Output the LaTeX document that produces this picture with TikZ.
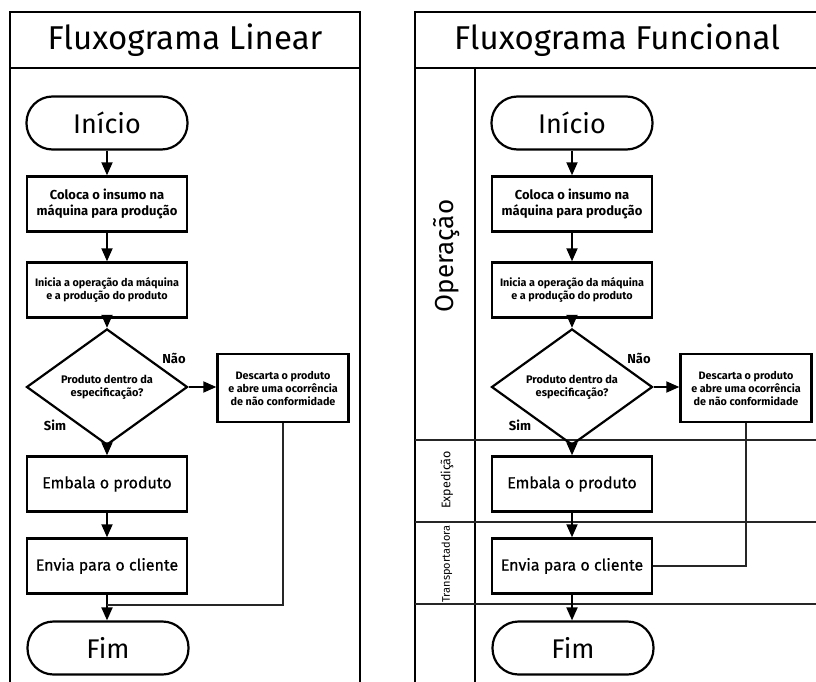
\documentclass[tikz,border=0pt]{standalone}
\usepackage{fontspec}
\setmainfont{Fira Sans}
\newfontfamily\firameio[FakeBold=0.6]{Fira Sans}
\usetikzlibrary{arrows.meta}
\usetikzlibrary{shapes.geometric}
\usetikzlibrary{calc}

\begin{document}
\begin{tikzpicture}[x=1pt,y=-1pt,
    moldura/.style={line width=2pt},
    raia/.style={line width=1.1pt,black!85},
    titulo/.style={font=\fontsize{33}{36}\selectfont},
    terminal/.style={draw,line width=2.2pt,rounded corners=26pt,minimum width=161pt,minimum height=53pt,font=\fontsize{27}{30}\selectfont},
    caixa/.style={draw,line width=2.4pt,minimum width=160pt,minimum height=55pt,inner sep=2pt,align=center,font=\fontsize{13}{15.5}\selectfont\bfseries},
    miuda/.style={font=\fontsize{10.8}{13}\selectfont\bfseries},
    grande/.style={font=\fontsize{16}{19}\firameio},
    decisao/.style={draw,diamond,line width=2.2pt,minimum width=161pt,minimum height=84pt,inner sep=0pt,align=center,font=\fontsize{11}{13}\selectfont\bfseries},
    rotulo/.style={font=\fontsize{13}{15}\selectfont\bfseries},
    seta/.style={-{Triangle[width=11pt,length=13pt]},line width=1.9pt},
    retorno/.style={line width=1.3pt,black!85}
]
\useasboundingbox[fill=white] (0,0) rectangle (816,682);

% fluxograma linear
\draw[moldura] (10,682) -- (10,12) -- (360,12) -- (360,682);
\draw[moldura] (10,68) -- (360,68);
\node[titulo] (tit1) at (185,40) {Fluxograma Linear};

\node[terminal] (ini1) at (107,123) {Início};
\node[caixa] (col1) at (107,204) {Coloca o insumo na\\máquina para produção};
\node[caixa,miuda] (opr1) at (107,290) {Inicia a operação da máquina\\e a produção do produto};
\node[decisao] (dec1) at (107,387) {Produto dentro da\\especificação?};
\node[caixa,miuda,minimum width=131pt,minimum height=68pt] (des1) at (283,388) {Descarta o produto\\e abre uma ocorrência\\de não conformidade};
\node[caixa,grande] (emb1) at (107,484) {Embala o produto};
\node[caixa,grande] (env1) at (107,566) {Envia para o cliente};
\node[terminal] (fim1) at (108,648) {Fim};
\node[rotulo] (nao1) at (174,358) {Não};
\node[rotulo] (sim1) at (55,425) {Sim};
\coordinate (jun1) at (107,605);

\draw[seta] (ini1.south) -- (col1.north);
\draw[seta] (col1.south) -- (opr1.north);
\draw[seta] (opr1.south) -- (dec1.north);
\draw[seta] (dec1.east) -- (dec1.east -| des1.west);
\draw[seta] (dec1.south) -- (emb1.north);
\draw[seta] (emb1.south) -- (env1.north);
\draw[seta] (env1.south) -- (fim1.north -| env1.south);
\draw[retorno] (des1.south) |- (jun1);

% fluxograma funcional
\draw[moldura] (415,682) -- (415,12) -- (816,12);
\draw[moldura] (415,68) -- (816,68);
\draw[moldura] (475,68) -- (475,682);
\node[titulo] (tit2) at (617,40) {Fluxograma Funcional};

\draw[raia] (415,440) -- (816,440);
\draw[raia] (415,522) -- (816,522);
\draw[raia] (415,604) -- (816,604);
\node[rotate=90,font=\fontsize{26}{28}\selectfont] (ope) at (447,256) {Operação};
\node[rotate=90,font=\fontsize{12.5}{14}\selectfont] (exp) at (447,480) {Expedição};
\node[rotate=90,font=\fontsize{11}{12}\selectfont] (tra) at (447,564) {Transportadora};

\node[terminal] (ini2) at (572,123) {Início};
\node[caixa] (col2) at (572,204) {Coloca o insumo na\\máquina para produção};
\node[caixa,miuda] (opr2) at (572,290) {Inicia a operação da máquina\\e a produção do produto};
\node[decisao] (dec2) at (572,387) {Produto dentro da\\especificação?};
\node[caixa,miuda,minimum width=131pt,minimum height=68pt] (des2) at (746,388) {Descarta o produto\\e abre uma ocorrência\\de não conformidade};
\node[caixa,grande] (emb2) at (572,484) {Embala o produto};
\node[caixa,grande] (env2) at (572,566) {Envia para o cliente};
\node[terminal] (fim2) at (573,648) {Fim};
\node[rotulo] (nao2) at (639,358) {Não};
\node[rotulo] (sim2) at (520,425) {Sim};

\draw[seta] (ini2.south) -- (col2.north);
\draw[seta] (col2.south) -- (opr2.north);
\draw[seta] (opr2.south) -- (dec2.north);
\draw[seta] (dec2.east) -- (dec2.east -| des2.west);
\draw[seta] (dec2.south) -- (emb2.north);
\draw[seta] (emb2.south) -- (env2.north);
\draw[seta] (env2.south) -- (fim2.north -| env2.south);
\draw[retorno] (des2.south) |- (env2.east);
\end{tikzpicture}
\end{document}
